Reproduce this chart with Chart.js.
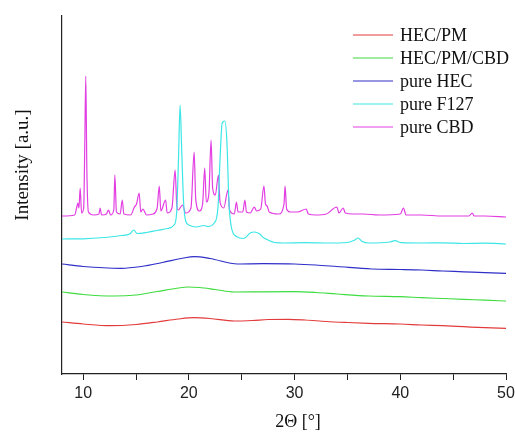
<!DOCTYPE html>
<html>
<head>
<meta charset="utf-8">
<script src="https://cdn.jsdelivr.net/npm/chart.js@4"></script>
<style>
  html, body { margin: 0; padding: 0; background: #fff; }
  #wrap { width: 515px; height: 432px; }
</style>
</head>
<body>
<div id="wrap"><canvas id="xrd" width="515" height="432"></canvas></div>
<script>
// series: [2theta, intensity a.u.]
var seriesNames = ['HEC/PM', 'HEC/PM/CBD', 'pure HEC', 'pure F127', 'pure CBD'];
var seriesColors = ['#e23b3b', '#3fdc3f', '#2e2ec8', '#3de6e6', '#e23ee2'];

var hecPM = [[8,52],[10,50],[12.6,48.3],[15,49.5],[17,52],[19,55],[20.5,56.3],[22,55.5],[24.3,53],[26,53.5],[27.5,54.5],[29.4,54.7],[31,54],[33,52.5],[35,51.5],[37,50.7],[40,50],[42,49],[44,48.3],[46,47.3],[48,46.3],[50,45.7]];
var hecPMCBD = [[8,82],[10,79.5],[12.9,78],[15,79],[17,82.5],[19,86],[19.9,87],[21,86.5],[22.5,84.5],[24.3,82],[27,82.2],[30,82.3],[32,81.5],[34,80],[37,78],[40,77.3],[42,76.3],[44,75.5],[46,74.7],[48,73.8],[50,73]];
var pureHEC = [[8,110],[10,107.5],[13.6,105.7],[15.5,107.5],[17.5,111.5],[19.5,116],[20.5,117.3],[22,115.5],[24.6,110],[27,110.3],[30,110],[32,109],[34,107.5],[37.3,105],[40,104.5],[42,104],[44,103],[46,102.2],[48,101.3],[50,100.7]];
var pureF127 = [[8,135],[10,135.2],[12,136.5],[13.6,138.5],[14.4,140],[14.8,144],[15.1,140.5],[16,141.5],[17,143.5],[18,145.5],[18.6,149],[18.85,162],[19.02,215],[19.17,269],[19.32,225],[19.5,172],[19.7,153],[20,149],[20.7,147],[21.4,148.5],[21.8,147.5],[22.4,151],[22.75,166],[22.95,215],[23.15,251],[23.4,253],[23.6,232],[23.8,170],[24,148],[24.5,137.5],[25.2,135.5],[25.8,141],[26.2,142],[26.7,140],[27.1,136],[27.4,134.5],[28.1,131.5],[29,131],[31,131.3],[33,131],[35,131.5],[35.7,134],[36,136],[36.4,132.5],[37,131],[39,132],[39.5,133.3],[40.1,131.3],[42,131],[44,131.2],[46,130.5],[48,130.8],[50,130]];
var pureCBD = [[8,158],[9.2,159],[9.4,167],[9.5,171],[9.6,166],[9.72,186],[9.85,161],[10.05,166],[10.15,225],[10.25,298],[10.35,205],[10.5,162],[11,159],[11.5,160],[11.6,166],[11.75,159],[12.2,160],[12.4,164],[12.6,159],[12.9,164],[13.0,199],[13.15,162],[13.5,160],[13.7,174],[13.85,160],[14.5,159],[14.85,167],[15.05,170],[15.3,181],[15.45,162],[15.65,165],[16,159],[16.6,160],[17.0,166],[17.2,188],[17.35,163],[17.8,174],[17.95,161],[18.4,166],[18.7,204],[18.85,170],[19.0,164],[19.4,169],[19.7,161],[20.2,166],[20.5,222],[20.65,175],[21.0,163],[21.3,170],[21.5,206],[21.65,172],[21.9,181],[22.1,234],[22.25,186],[22.5,179],[22.8,199],[22.95,172],[23.3,166],[23.7,184],[23.85,164],[24.3,160],[24.5,172],[24.65,162],[25.1,162],[25.3,174],[25.45,162],[25.8,161],[26.2,167],[26.4,163],[26.8,165],[27.1,188],[27.25,170],[27.4,168],[27.6,162],[28.5,160],[29.0,170],[29.1,188],[29.25,165],[29.6,162],[30.3,162],[31.1,165],[31.3,160],[32,159],[33,160],[34.0,167],[34.2,161],[34.6,166],[34.8,161],[35.5,160],[36.5,160],[38,159],[40.0,160],[40.3,166],[40.55,159],[42,159],[44,158],[46.5,158],[46.8,161],[47,158],[48,158],[50,157]];

var xTicks = [10, 20, 30, 40, 50];

var allSeries = [hecPM, hecPMCBD, pureHEC, pureF127, pureCBD];

var datasets = allSeries.map(function (s, i) {
    return {
        label: seriesNames[i],
        data: s.map(function (p) { return { x: p[0], y: p[1] }; }),
        borderColor: seriesColors[i],
        borderWidth: 1.2,
        pointRadius: 0,
        fill: false,
        cubicInterpolationMode: 'monotone'
    };
});

// legend + axis titles drawn by hand so they sit where the original has them
var decorPlugin = {
    id: 'decor',
    afterDraw: function (chart) {
        var ctx = chart.ctx;
        ctx.save();
        ctx.font = '18px "Liberation Serif", "Times New Roman", serif';
        ctx.textBaseline = 'middle';
        chart.data.datasets.forEach(function (ds, i) {
            var y = 35 + i * 23;
            ctx.strokeStyle = ds.borderColor;
            ctx.lineWidth = 1.2;
            ctx.beginPath();
            ctx.moveTo(353, y);
            ctx.lineTo(393, y);
            ctx.stroke();
            ctx.fillStyle = '#111';
            ctx.textAlign = 'left';
            ctx.fillText(ds.label, 400, y + 1);
        });

        ctx.fillStyle = '#111';
        ctx.font = '18px "Liberation Serif", "Times New Roman", serif';
        ctx.textAlign = 'center';
        ctx.fillText('2\u0398 [\u00b0]', 298, 422);

        ctx.translate(23, 165);
        ctx.rotate(-Math.PI / 2);
        ctx.font = '19px "Liberation Serif", "Times New Roman", serif';
        ctx.fillText('Intensity [a.u.]', 0, 0);
        ctx.restore();
    }
};

var ctx = document.getElementById('xrd').getContext('2d');
var chart = new Chart(ctx, {
    type: 'line',
    data: { datasets: datasets },
    plugins: [decorPlugin],
    options: {
        responsive: false,
        animation: false,
        layout: { padding: { top: 16, right: 0, left: 0, bottom: 0 } },
        plugins: {
            legend: { display: false },
            tooltip: { enabled: false }
        },
        scales: {
            x: {
                type: 'linear',
                min: 8,
                max: 50,
                grid: { drawOnChartArea: false, drawTicks: true, tickLength: 6, color: '#222' },
                border: { color: '#222', width: 1.2 },
                ticks: {
                    stepSize: 5,
                    includeBounds: false,
                    maxRotation: 0,
                    autoSkip: false,
                    padding: 4,
                    color: '#222',
                    font: { family: '"Liberation Sans", Arial, sans-serif', size: 16 },
                    callback: function (v) { return xTicks.indexOf(v) >= 0 ? v : ''; }
                },
                afterFit: function (scale) {
                    scale.height = 58;
                    scale.paddingRight = 9;
                    scale.paddingLeft = 0;
                }
            },
            y: {
                type: 'linear',
                min: 0,
                max: 358,
                grid: { drawOnChartArea: false, drawTicks: false },
                border: { color: '#222', width: 1.2 },
                ticks: { display: false },
                afterFit: function (scale) { scale.width = 62; }
            }
        }
    }
});
</script>
</body>
</html>
